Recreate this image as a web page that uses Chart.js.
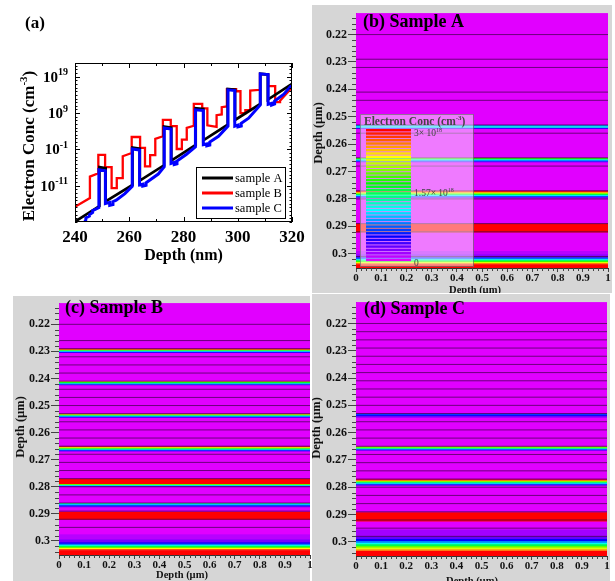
<!DOCTYPE html>
<html>
<head>
<meta charset="utf-8">
<title>Electron concentration</title>
<script src="https://cdn.jsdelivr.net/npm/chart.js@4.4.1/dist/chart.umd.min.js"></script>
<style>
  body { margin: 0; background: #fff; }
  #page { position: relative; width: 615px; height: 581px; overflow: hidden; }
  #page canvas, #page .bg { position: absolute; }
  .bg { background: #d6d6d6; }
</style>
</head>
<body>
<div id="page">
  <div class="bg" style="left:312px;top:5px;width:300px;height:288px"></div>
  <canvas id="cb" width="300" height="288" style="left:312px;top:5px"></canvas>
  <div class="bg" style="left:13px;top:296px;width:297px;height:285px"></div>
  <canvas id="cc" width="303" height="286" style="left:13px;top:295px"></canvas>
  <div class="bg" style="left:312px;top:294px;width:298px;height:287px"></div>
  <canvas id="cd" width="300" height="287" style="left:312px;top:294px"></canvas>
  <canvas id="ca" width="310" height="270" style="left:0;top:0"></canvas>
</div>
<script>
const SERIF = '"Liberation Serif", "Times New Roman", serif';

// ---------- (a) profiles: depth (nm) and log10 of electron conc (cm^-3)
const nmTicks = [240, 260, 280, 300, 320];
const expTicks = [19, 9, -1, -11];

const nmA = [240, 249, 249, 251.3, 251.3, 261.2, 261.2, 263.9, 263.9, 272.8, 272.8, 275.5, 275.5,
  284.5, 284.5, 287.3, 287.3, 296.3, 296.3, 299.0, 299.0, 308.3, 308.3, 311.1, 311.1, 320];
const expA = [-20.9, -16.6, -5.9, -6.2, -15.3, -10.8, -0.5, -0.8, -9.6, -5.4, 5.3, 5.0, -4.1,
  0.2, 10.3, 10.1, 1.5, 5.8, 15.6, 15.4, 7.1, 11.5, 19.8, 19.6, 12.7, 17.0];

const nmB = [240, 245.5, 245.5, 248.6, 248.6, 251.1, 251.1, 253.5, 253.5, 255.4, 255.4, 257.6, 257.6,
  260.9, 260.9, 264.0, 264.0, 265.8, 265.8, 267.7, 267.7, 269.6, 269.6, 272.4, 272.4, 275.3, 275.3,
  277.5, 277.5, 279.4, 279.4, 281.2, 281.2, 283.8, 283.8, 286.9, 286.9, 288.8, 288.8, 292.2, 292.2,
  294.1, 294.1, 296.0, 296.0, 299.4, 299.4, 301.0, 301.0, 302.8, 302.8, 304.6, 304.6, 308.2, 308.2,
  311.2, 311.2, 313.8, 313.8, 315.6, 315.6, 320];
const expB = [-16.8, -14.4, -8.5, -7.6, -2.5, -2.5, -5.9, -5.9, -11.7, -11.7, -8.9, -8.9, -2.9,
  -2.0, 2.4, 2.4, -0.6, -0.6, -5.7, -5.7, -2.6, -2.6, 1.9, 2.6, 7.1, 7.1, 5.4,
  5.4, -0.9, -0.9, 1.7, 1.7, 4.9, 5.5, 11.5, 11.5, 10.3, 10.3, 5.6, 5.2, 8.4,
  8.6, 10.6, 10.8, 15.6, 15.6, 15.0, 15.0, 9.0, 9.0, 9.8, 9.8, 15.2, 15.4, 19.7,
  19.7, 16.4, 16.4, 12.0, 12.0, 12.4, 16.0];

const nmC = [242.5, 244, 244, 245.3, 245.3, 246.5, 246.5, 248.8, 248.8, 251.2,
  251.2, 252.8, 252.8, 254.0, 254.0, 255.2, 258.4, 261.1, 261.1, 263.8,
  263.8, 265.0, 265.0, 266.2, 266.2, 270.7, 272.9, 272.9, 275.4, 275.4,
  276.6, 276.6, 277.6, 277.6, 281.0, 284.4, 284.4, 287.3, 287.3, 288.6,
  288.6, 289.7, 289.7, 292.9, 296.4, 296.4, 298.9, 298.9, 300.1, 300.1,
  301.3, 301.3, 304.0, 308.3, 308.3, 311.2, 311.2, 312.5, 312.5, 313.6,
  313.6, 317.0, 320];
const expC = [-22.5, -20.4, -19.9, -19.4, -19.0, -18.4, -17.9, -17.0, -6.6, -6.9,
  -15.9, -15.6, -16.4, -16.2, -15.4, -15.0, -13.2, -11.2, -0.9, -1.2,
  -10.8, -10.6, -11.1, -10.9, -10.2, -7.8, -5.8, 4.9, 4.6, -4.9,
  -4.6, -5.2, -5.0, -4.2, -2.4, -0.3, 9.9, 9.7, 0.3, 0.5,
  0.0, 0.2, 1.0, 2.6, 5.4, 15.4, 15.2, 5.4, 5.7, 5.2,
  5.4, 6.2, 7.6, 11.2, 19.8, 19.6, 11.4, 11.7, 11.2, 11.5,
  12.3, 14.2, 16.8];

// ---------- (b)-(d) maps: layer tops (um), conc per layer (1e18 cm^-3), interface lines (um)
const depthTicks = [0.22, 0.23, 0.24, 0.25, 0.26, 0.27, 0.28, 0.29, 0.30];
const depthTickLabels = ['0.22', '0.23', '0.24', '0.25', '0.26', '0.27', '0.28', '0.29', '0.3'];
const widthTicks = [0, 0.1, 0.2, 0.3, 0.4, 0.5, 0.6, 0.7, 0.8, 0.9, 1];
const widthTickLabels = ['0', '0.1', '0.2', '0.3', '0.4', '0.5', '0.6', '0.7', '0.8', '0.9', '1'];
const concMax = 3;
const cbarTicks = [3, 1.57, 0];
const cbarLabels = [['3× 10', '18'], ['1.57× 10', '18'], ['0', '']];

const layerTopA = [0.2100, 0.2530, 0.2535, 0.2540, 0.2545,
  0.2650, 0.2654, 0.2658, 0.2662, 0.2666,
  0.2770, 0.2774, 0.2778, 0.2782, 0.2786, 0.2790, 0.2794, 0.2798,
  0.2890, 0.2922,
  0.2990, 0.3002, 0.3010, 0.3014, 0.3018, 0.3022, 0.3026, 0.3030, 0.3034, 0.3038, 0.3060];
const layerConcA = [0, 0.9, 1.2, 0.4, 0,
  1.9, 1.4, 0.9, 0.4, 0,
  3, 2.6, 2.1, 1.6, 1.1, 0.6, 0.2, 0,
  3, 0,
  0.1, 0.2, 0.3, 0.7, 1.1, 1.5, 1.9, 2.3, 2.7, 3];
const meshA = [0.2200, 0.2290, 0.2320, 0.2410, 0.2440, 0.2530, 0.2560, 0.2650, 0.2680,
  0.2770, 0.2800, 0.2890, 0.2920, 0.3010];

const layerTopB = [0.2100, 0.2290, 0.2293, 0.2296, 0.2299, 0.2302, 0.2305,
  0.2410, 0.2413, 0.2416, 0.2419, 0.2422, 0.2425,
  0.2530, 0.2533, 0.2536, 0.2539, 0.2542, 0.2545,
  0.2650, 0.2653, 0.2656, 0.2659, 0.2662, 0.2665, 0.2668, 0.2671,
  0.2770, 0.2790, 0.2793, 0.2796, 0.2799,
  0.2860, 0.2864, 0.2868, 0.2872, 0.2876,
  0.2892, 0.2922,
  0.2975, 0.2995, 0.3005, 0.3010, 0.3014, 0.3018, 0.3022, 0.3026, 0.3030, 0.3034, 0.3060];
const layerConcB = [0, 3, 2.3, 1.6, 1.0, 0.5, 0,
  2.4, 1.8, 1.3, 0.8, 0.4, 0,
  2.6, 2.0, 1.4, 0.9, 0.4, 0,
  3, 2.5, 2.0, 1.5, 1.0, 0.5, 0.2, 0,
  3, 2.0, 1.2, 0.5, 0,
  1.4, 1.0, 0.6, 0.3, 0,
  3, 0,
  0.1, 0.25, 0.5, 0.8, 1.2, 1.6, 2.0, 2.4, 2.8, 3];
const meshB = [0.2200, 0.2260, 0.2290, 0.2320, 0.2350, 0.2380, 0.2410, 0.2440, 0.2470, 0.2500,
  0.2530, 0.2560, 0.2590, 0.2620, 0.2650, 0.2680, 0.2710, 0.2740, 0.2770, 0.2800,
  0.2830, 0.2860, 0.2890, 0.2920, 0.2950];

const layerTopC = [0.2100, 0.2530, 0.2535, 0.2540, 0.2545,
  0.2651, 0.2654, 0.2657, 0.2660, 0.2663, 0.2666,
  0.2771, 0.2775, 0.2779, 0.2783, 0.2787, 0.2791, 0.2795,
  0.2892, 0.2926,
  0.2955, 0.2980, 0.2990, 0.2997, 0.3003, 0.3009, 0.3015, 0.3021, 0.3027, 0.3033, 0.3060];
const layerConcC = [0, 0.7, 0.5, 0.2, 0,
  2.2, 1.8, 1.3, 0.8, 0.3, 0,
  3, 2.4, 1.8, 1.2, 0.7, 0.3, 0,
  3, 0,
  0.15, 0.3, 0.55, 0.85, 1.2, 1.6, 2.0, 2.3, 2.6, 3];
const meshC = [0.2200, 0.2230, 0.2260, 0.2290, 0.2320, 0.2350, 0.2380, 0.2410, 0.2440, 0.2470,
  0.2500, 0.2530, 0.2560, 0.2590, 0.2620, 0.2650, 0.2680, 0.2710, 0.2740, 0.2770,
  0.2800, 0.2830, 0.2860, 0.2890, 0.2920, 0.2950, 0.2980];

// rainbow map: magenta at 0, red at concMax
function concColor(v) {
  const h = 293 * (1 - Math.min(v, concMax) / concMax);
  return 'hsl(' + h.toFixed(1) + ',100%,50%)';
}

// text with a superscript part: parts = [base, sup, tail]
function supText(ctx, x, y, parts, px, weight, align) {
  const base = parts[0], sup = parts[1] || '', tail = parts[2] || '';
  const big = weight + ' ' + px + 'px ' + SERIF;
  const small = weight + ' ' + Math.round(px * 0.65) + 'px ' + SERIF;
  ctx.font = big;
  const wb = ctx.measureText(base).width, wt = ctx.measureText(tail).width;
  ctx.font = small;
  const ws = ctx.measureText(sup).width;
  const w = wb + ws + wt;
  const x0 = align === 'right' ? x - w : align === 'center' ? x - w / 2 : x;
  ctx.textAlign = 'left';
  ctx.textBaseline = 'alphabetic';
  ctx.font = big;
  ctx.fillText(base, x0, y);
  if (tail) ctx.fillText(tail, x0 + wb + ws, y);
  ctx.font = small;
  if (sup) ctx.fillText(sup, x0 + wb, y - px * 0.42);
}

function rotText(ctx, x, y, parts, px) {
  ctx.save();
  ctx.translate(x, y);
  ctx.rotate(-Math.PI / 2);
  supText(ctx, 0, 0, parts, px, 'bold', 'center');
  ctx.restore();
}

const pts = (xs, es) => xs.map((x, i) => ({x: x, y: Math.pow(10, es[i])}));

// ---------- panel (a)
const panelA = {
  id: 'panelA',
  afterDraw(chart) {
    const ctx = chart.ctx, ca = chart.chartArea, x = chart.scales.x, y = chart.scales.y;
    ctx.save();
    ctx.strokeStyle = '#000';
    ctx.lineWidth = 1;
    ctx.strokeRect(ca.left + 0.5, ca.top + 0.5, ca.right - ca.left - 1, ca.bottom - ca.top - 1);
    ctx.beginPath();
    for (let v = 240; v <= 320; v += 10) {
      const px = Math.round(x.getPixelForValue(v)) + 0.5;
      const len = v % 20 === 0 ? 5 : 3;
      ctx.moveTo(px, ca.bottom); ctx.lineTo(px, ca.bottom - len);
      ctx.moveTo(px, ca.top); ctx.lineTo(px, ca.top + len);
    }
    for (let e = -21; e <= 22; e++) {
      const py = Math.round(y.getPixelForValue(Math.pow(10, e))) + 0.5;
      const len = expTicks.includes(e) ? 5 : 2.5;
      ctx.moveTo(ca.left, py); ctx.lineTo(ca.left + len, py);
      ctx.moveTo(ca.right, py); ctx.lineTo(ca.right - len, py);
    }
    ctx.stroke();

    ctx.fillStyle = '#000';
    expTicks.forEach(e => {
      const py = y.getPixelForValue(Math.pow(10, e));
      supText(ctx, ca.left - 7, py + 5, ['10', String(e)], 15, 'bold', 'right');
    });
    supText(ctx, 25, 28, ['(a)'], 17, 'bold', 'left');
    supText(ctx, (ca.left + ca.right) / 2, 260, ['Depth (nm)'], 16, 'bold', 'center');
    rotText(ctx, 34, 146, ['Electron Conc (cm', '-3', ')'], 17);

    // legend
    const lx = 196, ly = 167, lw = 89, lh = 51;
    ctx.fillStyle = '#fff';
    ctx.fillRect(lx, ly, lw, lh);
    ctx.strokeStyle = '#000';
    ctx.lineWidth = 1;
    ctx.strokeRect(lx + 0.5, ly + 0.5, lw, lh);
    chart.data.datasets.forEach((ds, i) => {
      const yy = ly + 11 + i * 15;
      ctx.strokeStyle = ds.borderColor;
      ctx.lineWidth = 3;
      ctx.beginPath();
      ctx.moveTo(lx + 6, yy); ctx.lineTo(lx + 37, yy);
      ctx.stroke();
      ctx.fillStyle = '#000';
      supText(ctx, lx + 39, yy + 4, [ds.label], 12.5, 'normal', 'left');
    });
    ctx.restore();
  }
};

new Chart(document.getElementById('ca'), {
  type: 'line',
  data: {
    datasets: [
      {label: 'sample A', data: pts(nmA, expA), borderColor: '#000000', borderWidth: 2.7, order: 2},
      {label: 'sample B', data: pts(nmB, expB), borderColor: '#ff0000', borderWidth: 2.3, order: 3},
      {label: 'sample C', data: pts(nmC, expC), borderColor: '#0000ff', borderWidth: 3, order: 1}
    ]
  },
  options: {
    responsive: false,
    animation: false,
    events: [],
    layout: {padding: {top: 63, right: 18, left: 0, bottom: 0}},
    elements: {point: {radius: 0}, line: {tension: 0, borderJoinStyle: 'miter', fill: false}},
    plugins: {legend: {display: false}, tooltip: {enabled: false}},
    scales: {
      x: {
        type: 'linear', min: 240, max: 320,
        afterBuildTicks: s => { s.ticks = nmTicks.map(v => ({value: v})); },
        afterFit: s => { s.height = 48; },
        grid: {display: false, drawTicks: false},
        border: {display: false},
        ticks: {padding: 5, color: '#000', autoSkip: false, maxRotation: 0,
          font: {family: SERIF, size: 17, weight: 'bold'}}
      },
      y: {
        type: 'logarithmic', min: 1e-21, max: 6e22,
        afterFit: s => { s.width = 75; },
        grid: {display: false, drawTicks: false},
        border: {display: false},
        ticks: {display: false}
      }
    }
  },
  plugins: [panelA]
});

// ---------- panels (b)-(d)
const depthMin = 0.2122, depthMax = 0.3052;

function heatChart(id, tops, conc, mesh, cfg) {
  const flat = d => [{x: 0, y: d}, {x: 1, y: d}];
  const datasets = mesh.map(d => ({data: flat(d), borderColor: 'rgba(70,0,80,0.75)', borderWidth: 1, fill: false}));
  conc.forEach((v, i) => {
    datasets.push({data: flat(tops[i]), fill: '+1', backgroundColor: concColor(v),
      borderColor: concColor(v), borderWidth: 1});
  });
  datasets.push({data: flat(tops[tops.length - 1]), fill: false, borderWidth: 0, borderColor: 'rgba(0,0,0,0)'});

  const deco = {
    id: 'deco',
    beforeDatasetsDraw(chart) {
      const ctx = chart.ctx, ca = chart.chartArea;
      ctx.save();
      ctx.fillStyle = concColor(0);
      ctx.fillRect(ca.left, ca.top, ca.right - ca.left, ca.bottom - ca.top);
      ctx.restore();
    },
    afterDraw(chart) {
      const ctx = chart.ctx, ca = chart.chartArea, x = chart.scales.x, y = chart.scales.y;
      ctx.save();
      // minor ticks
      ctx.strokeStyle = '#444';
      ctx.lineWidth = 1;
      ctx.beginPath();
      for (let k = 107; k <= 152; k++) {
        if (k % 5 === 0) continue;
        const py = Math.round(y.getPixelForValue(k * 0.002)) + 0.5;
        if (py < ca.top || py > ca.bottom) continue;
        ctx.moveTo(ca.left - 4, py); ctx.lineTo(ca.left, py);
      }
      for (let k = 1; k < 50; k++) {
        if (k % 5 === 0) continue;
        const px = Math.round(x.getPixelForValue(k * 0.02)) + 0.5;
        ctx.moveTo(px, ca.bottom); ctx.lineTo(px, ca.bottom + 3);
      }
      ctx.stroke();

      ctx.fillStyle = '#000';
      supText(ctx, cfg.tx, cfg.ty, [cfg.title], 18, 'bold', 'left');
      ctx.fillStyle = '#111';
      rotText(ctx, cfg.yx, cfg.yy, ['Depth (µm)'], 12.5);
      supText(ctx, cfg.xx, cfg.xy, ['Depth (µm)'], 10.5, 'bold', 'center');

      if (cfg.cbar) {
        const b = cfg.cbar;
        ctx.fillStyle = 'rgba(255,255,255,0.48)';
        ctx.fillRect(b.x, b.y, b.w, b.h);
        ctx.strokeStyle = 'rgba(110,110,110,0.7)';
        ctx.strokeRect(b.x + 0.5, b.y + 0.5, b.w, b.h);
        const n = 40, sh = (b.sb - b.st) / n;
        for (let i = 0; i < n; i++) {
          ctx.fillStyle = concColor(concMax * (1 - i / (n - 1)));
          ctx.fillRect(b.sx, b.st + i * sh, b.sw, sh - 0.9);
        }
        ctx.fillStyle = '#444';
        supText(ctx, b.x + 4, b.y + 11, ['Electron Conc (cm', '-3', ')'], 11.5, 'bold', 'left');
        cbarTicks.forEach((v, i) => {
          const ly = b.st + (1 - v / concMax) * (b.sb - b.st);
          supText(ctx, b.sx + b.sw + 3, Math.max(ly, b.st + 3) + 3.5, cbarLabels[i], 9.5, 'normal', 'left');
        });
      }
      ctx.restore();
    }
  };

  return new Chart(document.getElementById(id), {
    type: 'line',
    data: {datasets: datasets},
    options: {
      responsive: false,
      animation: false,
      events: [],
      layout: {padding: cfg.pad},
      elements: {point: {radius: 0}, line: {tension: 0}},
      plugins: {legend: {display: false}, tooltip: {enabled: false}},
      scales: {
        x: {
          type: 'linear', min: 0, max: 1,
          afterBuildTicks: s => { s.ticks = widthTicks.map(v => ({value: v})); },
          afterFit: s => { s.height = cfg.xh; },
          grid: {drawOnChartArea: false, tickLength: 4, tickColor: '#444'},
          border: {color: '#333'},
          ticks: {padding: 0, autoSkip: false, maxRotation: 0, color: '#111',
            font: {family: SERIF, size: 11, weight: 'bold'},
            callback: (v, i) => widthTickLabels[i]}
        },
        y: {
          type: 'linear', reverse: true, min: depthMin, max: depthMax,
          afterBuildTicks: s => { s.ticks = depthTicks.map(v => ({value: v})); },
          afterFit: s => { s.width = cfg.yw; },
          grid: {drawOnChartArea: false, tickLength: 8, tickColor: '#444'},
          border: {color: '#333'},
          ticks: {padding: 1, color: '#111',
            font: {family: SERIF, size: 12, weight: 'bold'},
            callback: (v, i) => depthTickLabels[i]}
        }
      }
    },
    plugins: [deco]
  });
}

heatChart('cb', layerTopA, layerConcA, meshA, {
  title: '(b) Sample A', tx: 51, ty: 22, yx: 10, yy: 128, xx: 163, xy: 288,
  pad: {top: 5, right: 4, left: 0, bottom: 0}, xh: 25, yw: 44,
  cbar: {x: 48, y: 109, w: 113, h: 152, sx: 54, sw: 45, st: 124, sb: 257}
});
heatChart('cc', layerTopB, layerConcB, meshB, {
  title: '(c) Sample B', tx: 52, ty: 18, yx: 11, yy: 132, xx: 169, xy: 283,
  pad: {top: 2, right: 6, left: 0, bottom: 0}, xh: 26, yw: 46
});
heatChart('cd', layerTopC, layerConcC, meshC, {
  title: '(d) Sample C', tx: 52, ty: 20, yx: 8, yy: 134, xx: 160, xy: 290,
  pad: {top: 3, right: 5, left: 0, bottom: 0}, xh: 25, yw: 44
});
</script>
</body>
</html>
